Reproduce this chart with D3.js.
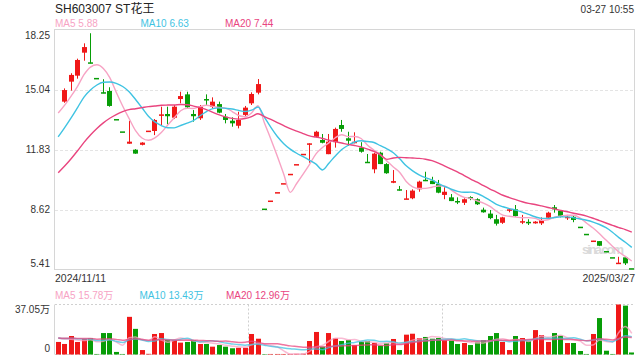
<!DOCTYPE html>
<html>
<head>
<meta charset="utf-8">
<script src="https://cdn.jsdelivr.net/npm/d3@7"></script>
<style>
  body { margin: 0; background: #fff; }
  svg { display: block; font-family: Arial, "Liberation Sans", "Noto Sans CJK SC", sans-serif; }
</style>
</head>
<body>
<script>
// daily candles, [open, high, low, close]; first day has no candle drawn
var ohlc = [
  [null, null, null, 14.40],
  [14.39, 15.10, 14.33, 15.01], [15.46, 15.91, 14.98, 15.82], [15.78, 16.69, 15.62, 16.62],
  [17.01, 17.51, 16.58, 17.31], [16.47, 18.05, 16.44, 16.44], [15.62, 15.62, 15.62, 15.62],
  [14.87, 15.59, 14.84, 14.84], [14.96, 15.16, 14.12, 14.16], [13.42, 13.42, 13.42, 13.42],
  [12.76, 12.76, 12.76, 12.76], [12.14, 13.37, 12.14, 12.25], [11.82, 11.85, 11.60, 11.61],
  [12.08, 12.22, 12.05, 12.20], [12.80, 12.82, 12.78, 12.80], [12.82, 13.46, 12.60, 13.41],
  [13.66, 14.12, 13.14, 13.68], [13.73, 14.12, 13.18, 13.61], [13.53, 14.21, 13.46, 14.12],
  [14.53, 14.92, 14.30, 14.69], [14.78, 14.92, 14.03, 14.09], [13.73, 13.94, 13.32, 13.61],
  [13.50, 14.21, 13.41, 14.12], [14.50, 14.78, 14.21, 14.48], [14.12, 14.62, 14.03, 14.39],
  [14.26, 14.39, 13.77, 13.80], [13.58, 13.73, 13.23, 13.41], [13.37, 13.55, 13.05, 13.23],
  [13.10, 13.85, 12.96, 13.41], [13.68, 14.16, 13.62, 14.07], [14.30, 14.89, 14.21, 14.80],
  [14.87, 15.60, 14.78, 15.33], [8.63, 8.63, 8.63, 8.63], [9.06, 9.06, 9.06, 9.06],
  [9.51, 9.51, 9.51, 9.51], [9.99, 9.99, 9.99, 9.99], [10.49, 10.49, 10.49, 10.49],
  [11.01, 11.01, 11.01, 11.01], [11.56, 11.56, 11.56, 11.56], [12.10, 12.16, 11.12, 12.14],
  [12.51, 12.83, 12.48, 12.78], [12.34, 12.66, 12.16, 12.19], [11.58, 12.66, 11.58, 12.25],
  [12.22, 13.00, 11.93, 12.93], [13.14, 13.41, 12.78, 12.93], [12.43, 12.78, 12.02, 12.30],
  [12.19, 12.75, 12.16, 12.22], [11.93, 12.22, 11.66, 11.71], [11.15, 11.59, 11.12, 11.12],
  [10.77, 11.66, 10.56, 11.61], [11.66, 11.71, 11.05, 11.05], [11.05, 11.10, 10.53, 10.56],
  [10.05, 10.73, 10.03, 10.14], [9.67, 9.88, 9.63, 9.66], [9.17, 9.66, 9.17, 9.18],
  [9.22, 9.70, 9.17, 9.63], [9.70, 10.16, 9.57, 10.11], [10.18, 10.64, 10.14, 10.16],
  [10.16, 10.37, 9.98, 9.98], [9.98, 10.20, 9.49, 9.52], [9.40, 9.81, 9.17, 9.57],
  [9.27, 9.45, 9.07, 9.07], [9.04, 9.27, 8.91, 9.03], [8.98, 9.22, 8.86, 9.17],
  [9.25, 9.33, 9.12, 9.24], [9.17, 9.22, 8.86, 8.90], [8.61, 8.72, 8.45, 8.47],
  [8.40, 8.59, 8.10, 8.16], [8.10, 8.33, 7.76, 7.86], [7.91, 8.23, 7.85, 8.20],
  [8.59, 8.68, 8.47, 8.59], [8.63, 8.86, 8.23, 8.27], [7.94, 8.33, 7.84, 7.97],
  [7.93, 8.10, 7.79, 7.91], [7.88, 8.00, 7.86, 7.97], [7.88, 8.20, 7.79, 8.06],
  [8.18, 8.50, 8.14, 8.45], [8.74, 8.86, 8.45, 8.63], [8.56, 8.59, 8.20, 8.23],
  [8.18, 8.33, 8.06, 8.20], [8.23, 8.27, 7.94, 8.06], [7.66, 7.66, 7.66, 7.66],
  [7.28, 7.28, 7.28, 7.28], [6.91, 6.94, 6.91, 6.93], [6.93, 6.93, 6.66, 6.68],
  [6.36, 6.36, 6.36, 6.36], [6.03, 6.03, 6.03, 6.03], [5.73, 6.09, 5.73, 5.74],
  [6.06, 6.06, 5.65, 5.74], [5.44, 5.44, 5.44, 5.44]
];

// volume, in 万 shares
var volumes = [
  9.3, 7.8, 13.7, 9.3, 11.5, 12.0, 0.4, 15.9, 15.9, 1.9,
  0.4, 27.9, 19.0, 3.3, 0.5, 15.2, 15.9, 10.7, 10.7, 8.8,
  9.3, 10.7, 7.8, 7.8, 5.8, 7.0, 5.8, 4.6, 5.0, 5.0,
  15.2, 11.7, 0.3, 0.4, 0.4, 0.4, 0.4, 0.5, 0.6, 10.0,
  16.7, 5.8, 15.9, 12.0, 10.0, 10.7, 7.0, 9.5, 10.0, 8.5,
  6.5, 8.3, 11.5, 3.3, 14.7, 15.4, 12.2, 13.0, 11.7, 12.2,
  10.5, 10.2, 7.8, 8.5, 7.0, 9.0, 10.7, 13.7, 15.9, 9.3,
  3.3, 13.7, 12.2, 10.0, 18.1, 14.4, 9.3, 15.9, 13.9, 8.5,
  8.5, 2.6, 0.4, 15.2, 27.0, 2.8, 0.4, 37.05, 36.2, 1.5
];

// closes/volumes before the window, only used to warm up the moving averages
var priorCloses = [7.9, 8.0, 8.1, 8.3, 8.5, 8.7, 8.9, 9.2, 9.5, 9.6,
                   10.1, 10.6, 11.1, 11.7, 12.7, 12.9, 13.4, 14.0, 14.2];
var priorVolumes = [11.2, 12.6, 13.4, 10.8, 12.1, 13.0, 11.7, 12.4, 10.9, 13.3,
                    12.2, 11.6, 13.1, 12.5, 11.8, 12.9, 13.6, 12.3, 13.2];

var priceTicks = [18.25, 15.04, 11.83, 8.62, 5.41];
var volumeMax = 37.05;
var maPeriods = [5, 10, 20];
var maColors = ["#f7a3c4", "#3fc3e2", "#e9457f"];
var priceMaLabels = ["MA5 5.88", "MA10 6.63", "MA20 7.44"];
var volumeMaLabels = ["MA5 15.78万", "MA10 13.43万", "MA20 12.96万"];
var title = "SH603007 ST花王";
var stamp = "03-27 10:55";
var dateLabels = ["2024/11/11", "2025/03/27"];

var width = 640, height = 360;
var plotLeft = 55, plotRight = 635;
var plotTop = 29.5, plotBottom = 269.5;
var vTop = 304.5, vBottom = 354.5;
var red = "#f01818", green = "#079d07";

var svg = d3.select("body").append("svg")
    .attr("width", width)
    .attr("height", height);

var x = d3.scaleBand().domain(d3.range(ohlc.length)).range([plotLeft, plotRight]);
var y = d3.scaleLinear().domain([5.41, 18.25]).range([plotBottom, plotTop]);
var yv = d3.scaleLinear().domain([0, volumeMax]).range([vBottom, vTop]);

function cx(i) { return x(i) + x.bandwidth() / 2; }
function bodyX(i) { return Math.round(cx(i) - 2.5); }

var closes = ohlc.map(function(d) { return d[3]; });
var allCloses = priorCloses.concat(closes);
var allVolumes = priorVolumes.concat(volumes);

function movingAvg(arr, n) {
    var off = arr.length - ohlc.length;
    return d3.range(ohlc.length).map(function(i) {
        return d3.mean(arr.slice(i + off - n + 1, i + off + 1));
    });
}

// rising or falling day, flat candles compare with previous close
function isUp(i) {
    var d = ohlc[i];
    if (d[0] != null && d[3] != d[0]) return d[3] > d[0];
    return d[3] >= allCloses[i + priorCloses.length - 1];
}

// ---- frames and grid
svg.append("rect")
    .attr("x", plotLeft - 0.5).attr("y", plotTop)
    .attr("width", plotRight - plotLeft).attr("height", plotBottom - plotTop)
    .attr("fill", "none").attr("stroke", "#d6d6d6");

svg.selectAll(".grid")
    .data(priceTicks.slice(1, -1))
    .enter().append("line")
    .attr("x1", plotLeft).attr("x2", plotRight - 1)
    .attr("y1", function(d) { return Math.round(y(d)) + 0.5; })
    .attr("y2", function(d) { return Math.round(y(d)) + 0.5; })
    .attr("stroke", "#e4e4e4")
    .attr("stroke-dasharray", "3,2");

[vTop, vBottom].forEach(function(v) {
    svg.append("line")
        .attr("x1", plotLeft).attr("x2", plotRight)
        .attr("y1", v).attr("y2", v)
        .attr("stroke", "#d0d0d0")
        .attr("stroke-dasharray", "2,2");
});
svg.append("line")
    .attr("x1", plotLeft - 0.5).attr("x2", plotLeft - 0.5)
    .attr("y1", vTop).attr("y2", vBottom)
    .attr("stroke", "#d6d6d6");
[1, 2].forEach(function(k) {
    var gx = Math.round(plotLeft + (plotRight - plotLeft) * k / 3) + 0.5;
    svg.append("line")
        .attr("x1", gx).attr("x2", gx)
        .attr("y1", vTop).attr("y2", vBottom)
        .attr("stroke", "#cfcfcf")
        .attr("stroke-dasharray", "2,2");
});

// watermark
svg.append("text")
    .attr("x", 582).attr("y", 253.5)
    .attr("font-size", 13).attr("font-weight", "bold")
    .attr("textLength", 42)
    .attr("fill", "#dadada")
    .text("sina.com");

// ---- candles
var candle = svg.append("g").selectAll("g")
    .data(d3.range(ohlc.length).filter(function(i) { return ohlc[i][0] != null; }))
    .enter().append("g")
    .attr("fill", function(i) { return isUp(i) ? red : green; })
    .attr("stroke", function(i) { return isUp(i) ? red : green; });

candle.append("line")
    .attr("x1", function(i) { return bodyX(i) + 2.5; })
    .attr("x2", function(i) { return bodyX(i) + 2.5; })
    .attr("y1", function(i) { return y(ohlc[i][1]); })
    .attr("y2", function(i) { return y(ohlc[i][2]); })
    .attr("stroke-width", 1);

candle.append("rect")
    .attr("stroke", "none")
    .attr("x", function(i) { return bodyX(i); })
    .attr("width", 5)
    .attr("y", function(i) {
        var t = y(Math.max(ohlc[i][0], ohlc[i][3]));
        var h = y(Math.min(ohlc[i][0], ohlc[i][3])) - t;
        return h < 1.5 ? t - (1.5 - h) / 2 : t;
    })
    .attr("height", function(i) {
        var h = y(Math.min(ohlc[i][0], ohlc[i][3])) - y(Math.max(ohlc[i][0], ohlc[i][3]));
        return Math.max(h, 1.5);
    });

// ---- price moving averages
var maLine = d3.line()
    .x(function(d, i) { return cx(i); })
    .y(function(d) { return y(d); })
    .curve(d3.curveMonotoneX);

maPeriods.forEach(function(n, k) {
    svg.append("path")
        .datum(movingAvg(allCloses, n))
        .attr("fill", "none")
        .attr("stroke", maColors[k])
        .attr("stroke-width", 1.4)
        .attr("d", maLine);
});

// ---- volume bars
svg.append("g").selectAll("rect")
    .data(volumes)
    .enter().append("rect")
    .attr("x", function(d, i) { return bodyX(i); })
    .attr("width", 5)
    .attr("y", function(d) { return yv(d); })
    .attr("height", function(d) { return vBottom - yv(d); })
    .attr("fill", function(d, i) { return isUp(i) ? red : green; });

var volLine = d3.line()
    .x(function(d, i) { return cx(i); })
    .y(function(d) { return yv(d); })
    .curve(d3.curveMonotoneX);

maPeriods.forEach(function(n, k) {
    svg.append("path")
        .datum(movingAvg(allVolumes, n))
        .attr("fill", "none")
        .attr("stroke", maColors[k])
        .attr("stroke-width", 1.5)
        .attr("opacity", 0.75)
        .attr("d", volLine);
});

// ---- texts
svg.append("text")
    .attr("x", 55).attr("y", 12.5)
    .attr("font-size", 12).attr("fill", "#222")
    .text(title);

svg.append("text")
    .attr("x", 634).attr("y", 12.5)
    .attr("text-anchor", "end")
    .attr("font-size", 10).attr("fill", "#333")
    .text(stamp);

var labelX = [55, 140.5, 225];
priceMaLabels.forEach(function(t, k) {
    svg.append("text")
        .attr("x", labelX[k]).attr("y", 27)
        .attr("font-size", 10).attr("fill", maColors[k])
        .text(t);
});

var volLabelX = [55, 139.5, 226];
volumeMaLabels.forEach(function(t, k) {
    svg.append("text")
        .attr("x", volLabelX[k]).attr("y", 299)
        .attr("font-size", 10).attr("fill", maColors[k])
        .text(t);
});

svg.selectAll(".ytick")
    .data(priceTicks)
    .enter().append("text")
    .attr("x", 50)
    .attr("y", function(d, i) {
        if (i == 0) return y(d) + 9.5;
        if (i == priceTicks.length - 1) return y(d) - 3;
        return y(d) + 3.5;
    })
    .attr("text-anchor", "end")
    .attr("font-size", 10).attr("fill", "#333")
    .text(function(d) { return d.toFixed(2); });

svg.append("text")
    .attr("x", 55).attr("y", 282)
    .attr("font-size", 10.5).attr("fill", "#333")
    .text(dateLabels[0]);
svg.append("text")
    .attr("x", 635).attr("y", 282)
    .attr("text-anchor", "end")
    .attr("font-size", 10.5).attr("fill", "#333")
    .text(dateLabels[1]);

svg.append("text")
    .attr("x", 50).attr("y", 313)
    .attr("text-anchor", "end")
    .attr("font-size", 10).attr("fill", "#333")
    .text(volumeMax + "万");
svg.append("text")
    .attr("x", 50).attr("y", 352)
    .attr("text-anchor", "end")
    .attr("font-size", 10).attr("fill", "#333")
    .text("0");
</script>
</body>
</html>
